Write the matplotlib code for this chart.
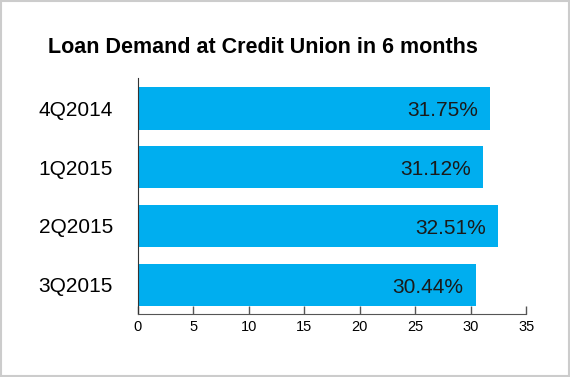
import matplotlib.pyplot as plt

quarters = ['4Q2014', '1Q2015', '2Q2015', '3Q2015']
demand = [31.75, 31.12, 32.51, 30.44]
xticks = [0, 5, 10, 15, 20, 25, 30, 35]

plt.rcParams['font.family'] = ['Liberation Sans', 'DejaVu Sans']

fig = plt.figure(figsize=(5.7, 3.77), dpi=100)
ax = fig.add_axes([0.242, 0.167, 0.681, 0.626])

pos = list(range(len(quarters)))
ax.barh(pos, demand, height=0.72, color='#00aeef')
for p, v in zip(pos, demand):
    ax.text(v - 1.1, p + 0.04, f'{v:.2f}%', ha='right', va='center',
            fontsize=15, color='#1a1a1a')

ax.set_xlim(0, 35)
ax.set_ylim(3.5, -0.52)
ax.set_xticks(xticks)
ax.set_xticklabels([str(t) for t in xticks], fontsize=10.5)
ax.set_yticks(pos)
ax.set_yticklabels(quarters, fontsize=15)
ax.tick_params(axis='y', length=0, pad=18)
ax.tick_params(axis='x', direction='in', length=6, width=1, color='#555555', pad=4)
for s in ['top', 'right']:
    ax.spines[s].set_visible(False)
ax.spines['left'].set_color('#333333')
ax.spines['bottom'].set_color('#555555')

fig.text(0.462, 0.875, 'Loan Demand at Credit Union in 6 months', ha='center',
         va='center', fontsize=15.5, fontweight='bold')

border = plt.Rectangle((0.002, 0.002), 0.996, 0.996, transform=fig.transFigure,
                       fill=False, edgecolor='#cccccc', linewidth=1.5)
fig.patches.append(border)

fig.savefig('out.png', dpi=100)
